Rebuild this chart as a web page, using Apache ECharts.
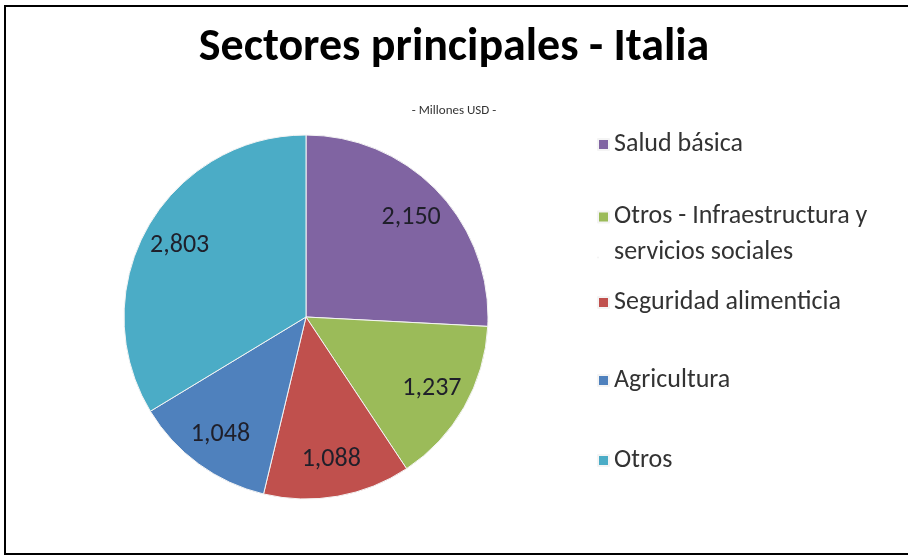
<!DOCTYPE html>
<html><head><meta charset="utf-8">
<script src="https://cdn.jsdelivr.net/npm/echarts@6/dist/echarts.min.js"></script>
<style>html,body{margin:0;padding:0;background:#fff}#c{width:908px;height:557px}</style>
</head><body><div id="c"></div>
<script>
const categories = ['Salud básica', 'Otros - Infraestructura y servicios sociales', 'Seguridad alimenticia', 'Agricultura', 'Otros'];
const values = [2150, 1237, 1088, 1048, 2803];
const colors = ['#8064A2', '#9BBB59', '#C0504D', '#4F81BD', '#4BACC6'];
const titleText = 'Sectores principales - Italia';
const subtitleText = '- Millones USD -';

const FONT = 'Carlito, Lato, sans-serif';
const chart = echarts.init(document.getElementById('c'), null, {renderer: 'canvas'});
const data = categories.map((n, i) => ({name: n, value: values[i], itemStyle: {color: colors[i]}}));
const legendCenters = [144, 216, 302, 380, 460];
const legends = categories.map((n, i) => {
  const twoLine = n.indexOf('Infraestructura') >= 0;
  return {
    data: [n], orient: 'vertical', left: 597, top: legendCenters[i] - 17.5,
    icon: twoLine ? 'path://M0,0L11,0L11,11L0,11Z M0,46L0.01,46L0.01,46.01Z' : 'rect',
    itemWidth: 11, itemHeight: twoLine ? 46 : 11, selectedMode: false, padding: 0,
    formatter: nm => nm === 'Otros - Infraestructura y servicios sociales' ? 'Otros - Infraestructura y\nservicios sociales' : nm,
    textStyle: {fontFamily: FONT, fontSize: 26, color: '#333', lineHeight: 36}
  };
});
chart.setOption({
  animation: false,
  backgroundColor: '#fff',
  title: [
    {text: titleText, left: 'center', top: 20, textStyle: {fontFamily: FONT, fontWeight: 'bold', fontSize: 46, color: '#000'}},
    {text: subtitleText, left: 'center', top: 99, textStyle: {fontFamily: FONT, fontWeight: 'normal', fontSize: 13, color: '#333'}}
  ],
  legend: legends,
  graphic: [{type: 'rect', shape: {x: 5, y: 6, width: 910, height: 548}, style: {fill: 'none', stroke: '#000', lineWidth: 2}, silent: true}],
  series: [
    {type: 'pie', center: [306, 317], radius: [0, 182], startAngle: 90, clockwise: true,
     data: data, label: {show: false}, labelLine: {show: false},
     itemStyle: {borderColor: '#f4f4f4', borderWidth: 1}, emphasis: {disabled: true}, silent: true},
    {type: 'pie', center: [306, 317], radius: [102, 182], startAngle: 90, clockwise: true,
     data: categories.map((n, i) => ({name: n, value: values[i]})),
     itemStyle: {color: 'rgba(0,0,0,0)'}, labelLine: {show: false}, emphasis: {disabled: true}, silent: true,
     label: {show: true, position: 'inside', fontFamily: FONT, fontSize: 26, color: '#1f1f2a',
       formatter: p => p.value.toLocaleString('en-US')}}
  ]
});
</script></body></html>
